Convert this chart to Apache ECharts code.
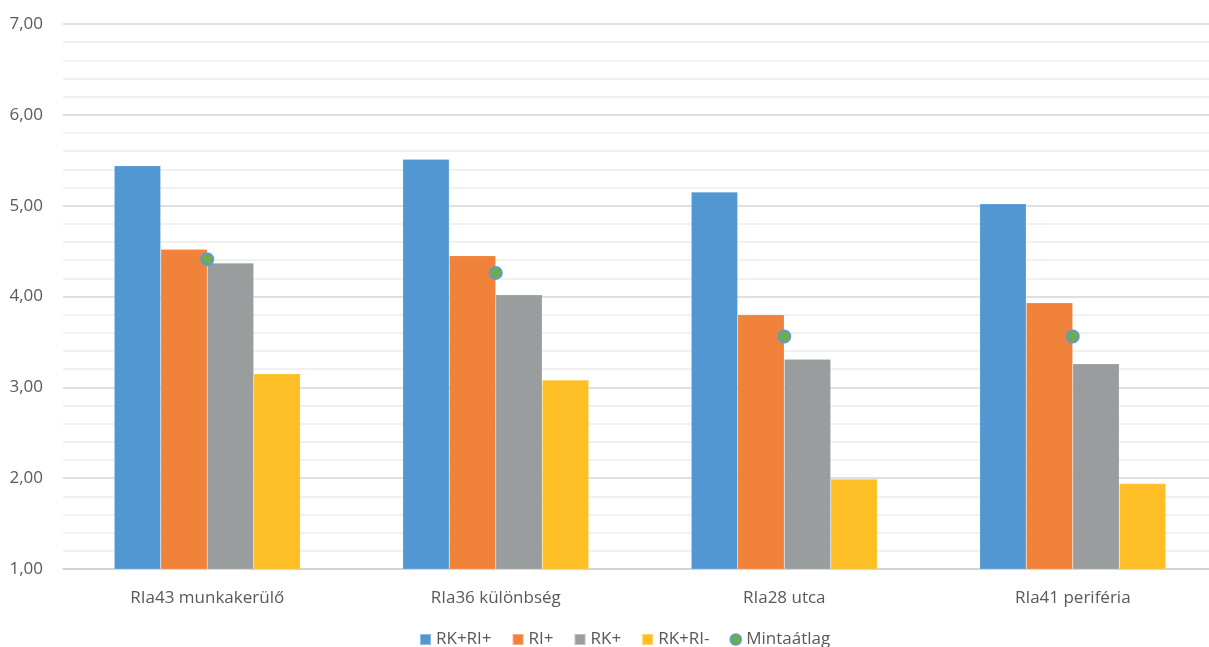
<!DOCTYPE html>
<html>
<head>
<meta charset="utf-8">
<script src="https://cdn.jsdelivr.net/npm/echarts@6/dist/echarts.min.js"></script>
<style>
html,body{margin:0;padding:0;background:#fff;}
#chart{width:1209px;height:647px;}
</style>
</head>
<body>
<div id="chart"></div>
<script>
var categories = ['RIa43 munkakerülő', 'RIa36 különbség', 'RIa28 utca', 'RIa41 periféria'];
var seriesNames = ['RK+RI+', 'RI+', 'RK+', 'RK+RI-', 'Mintaátlag'];
var rkriPlus = [5.44, 5.51, 5.15, 5.02];
var riPlus = [4.52, 4.45, 3.80, 3.93];
var rkPlus = [4.37, 4.02, 3.31, 3.26];
var rkriMinus = [3.15, 3.08, 1.99, 1.94];
var mintaatlag = [4.41, 4.26, 3.56, 3.56];
var yTicks = [1, 2, 3, 4, 5, 6, 7];

var colors = ['#5198D3', '#F0823A', '#9A9D9E', '#FDBE26'];
var font = '"Open Sans", "Noto Sans", sans-serif';

var chart = echarts.init(document.getElementById('chart'));
function bar(name, data, color) {
  return {
    name: name, type: 'bar', data: data, barGap: '0%', barCategoryGap: '35.5%',
    itemStyle: {color: color, borderColor: 'rgba(255,255,255,0.35)', borderWidth: 0.5},
    emphasis: {disabled: true}
  };
}
chart.setOption({
  animation: false,
  grid: {left: 63, width: 1154, top: 24, height: 545, containLabel: false, outerBoundsMode: 'none'},
  legend: {
    top: 626, left: 414, itemWidth: 11, itemHeight: 11, itemGap: 20,
    textStyle: {color: '#595959', fontSize: 17, fontFamily: font},
    data: [
      {name: seriesNames[0], icon: 'rect'},
      {name: seriesNames[1], icon: 'rect'},
      {name: seriesNames[2], icon: 'rect'},
      {name: seriesNames[3], icon: 'rect'},
      {name: seriesNames[4], icon: 'circle', itemStyle: {color: '#70AD47', borderColor: '#5B9BD5', borderWidth: 1.5}}
    ]
  },
  xAxis: {
    type: 'category', data: categories,
    axisLine: {show: true, lineStyle: {color: '#D0D0D0', width: 1.5}},
    axisTick: {show: false},
    axisLabel: {color: '#595959', fontSize: 17, fontFamily: font, margin: 21}
  },
  yAxis: {
    type: 'value', min: yTicks[0], max: yTicks[yTicks.length - 1], interval: 1,
    axisLine: {show: false}, axisTick: {show: false},
    axisLabel: {color: '#595959', fontSize: 17, fontFamily: font, margin: 20,
      formatter: function (v) { return v.toFixed(2).replace('.', ','); }},
    splitLine: {lineStyle: {color: '#D4D4D4', width: 1.5}},
    minorTick: {show: false, splitNumber: 5},
    minorSplitLine: {show: true, lineStyle: {color: '#EDEDED', width: 1.5}}
  },
  series: [
    bar(seriesNames[0], rkriPlus, colors[0]),
    bar(seriesNames[1], riPlus, colors[1]),
    bar(seriesNames[2], rkPlus, colors[2]),
    bar(seriesNames[3], rkriMinus, colors[3]),
    {
      name: seriesNames[4], type: 'scatter', data: mintaatlag, symbol: 'circle', symbolSize: 12,
      itemStyle: {color: '#70AD47', borderColor: '#5B9BD5', borderWidth: 2, opacity: 1},
      z: 5, emphasis: {disabled: true}
    }
  ]
});
</script>
</body>
</html>
